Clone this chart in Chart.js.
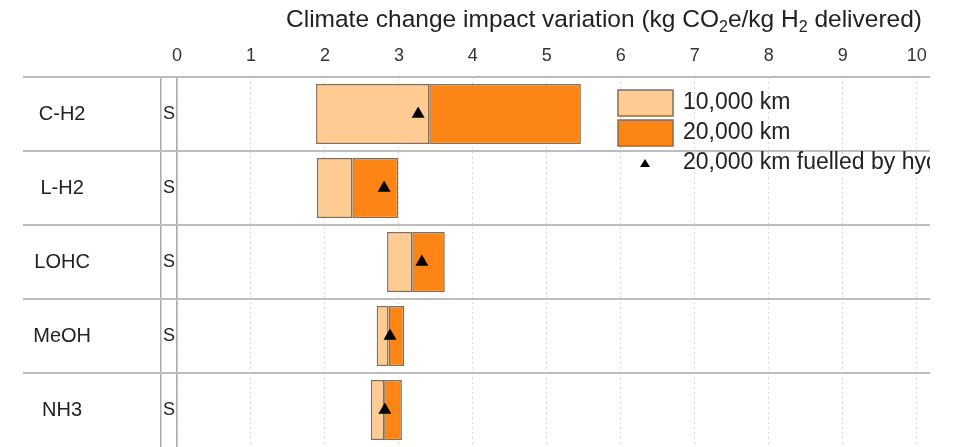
<!DOCTYPE html>
<html>
<head>
<meta charset="utf-8">
<script src="https://cdn.jsdelivr.net/npm/chart.js@4.4.0/dist/chart.umd.min.js"></script>
<style>
  html,body{margin:0;padding:0;background:#fff;overflow:hidden;}
  #wrap{width:953px;height:447px;position:relative;}
</style>
</head>
<body>
<div id="wrap"><canvas id="c"></canvas></div>
<script>
// valeurs (kg CO2e / kg H2 livré)
const carriers  = ["C-H2", "L-H2", "LOHC", "MeOH", "NH3"];
const scenario  = ["S", "S", "S", "S", "S"];
const start10k  = [1.88, 1.89, 2.84, 2.70, 2.62];   // début barre 10,000 km
const end10k    = [3.41, 2.37, 3.18, 2.86, 2.80];   // fin 10,000 km = début 20,000 km
const end20k    = [5.46, 2.99, 3.62, 3.07, 3.04];   // fin 20,000 km
const h2Fuelled = [3.26, 2.80, 3.31, 2.88, 2.81];   // 20,000 km fuelled by hydrogen
const xTicks    = [0, 1, 2, 3, 4, 5, 6, 7, 8, 9, 10];
const seriesNames = ["10,000 km", "20,000 km", "20,000 km fuelled by hydrogen"];
const titleParts = [["Climate change impact variation (kg CO", 0], ["2", 1], ["e/kg H", 0], ["2", 1], [" delivered)", 0]];

const LIGHT = "#fecc92", DARK = "#fd8516", EDGE = "#8a6c50", GRIDC = "#bdbdbd";
const FONT = "'Liberation Sans', Arial, sans-serif";
Chart.defaults.font.family = FONT;
Chart.defaults.color = "#222";

// lignes de séparation + titre + légende maison
const decor = {
  id: "decor",
  beforeDatasetsDraw(chart){
    const {ctx, chartArea} = chart, y = chart.scales.y;
    ctx.save();
    ctx.strokeStyle = GRIDC; ctx.lineWidth = 2;
    // la dernière ligne tombe hors de l'image sur la figure
    for (let i = 0; i < carriers.length; i++){
      const py = Math.round(y.getPixelForValue(i - 0.5));
      ctx.beginPath(); ctx.moveTo(y.left, py); ctx.lineTo(chartArea.right, py); ctx.stroke();
    }
    ctx.restore();
  },
  afterDraw(chart){
    const {ctx, chartArea} = chart;
    ctx.save();
    // titre avec indices
    const big = "24.5px " + FONT, small = "16px " + FONT;
    let w = 0;
    titleParts.forEach(([t, sub]) => { ctx.font = sub ? small : big; w += ctx.measureText(t).width; });
    let x = chartArea.right - 8 - w;
    ctx.fillStyle = "#222"; ctx.textBaseline = "alphabetic";
    titleParts.forEach(([t, sub]) => {
      ctx.font = sub ? small : big;
      ctx.fillText(t, x, sub ? 32 : 27);
      x += ctx.measureText(t).width;
    });
    // légende, coupée au bord droit comme sur la figure
    ctx.beginPath(); ctx.rect(chartArea.left, chartArea.top, chartArea.right - chartArea.left, chartArea.bottom - chartArea.top); ctx.clip();
    const bx = 618, tx = 683, rows = [103, 133, 163];
    [LIGHT, DARK].forEach((c, i) => {
      ctx.fillStyle = c; ctx.strokeStyle = EDGE; ctx.lineWidth = 1.5;
      ctx.fillRect(bx, rows[i] - 13, 55, 26); ctx.strokeRect(bx, rows[i] - 13, 55, 26);
    });
    ctx.fillStyle = "#000";
    ctx.beginPath(); ctx.moveTo(645, rows[2] - 4); ctx.lineTo(650, rows[2] + 4); ctx.lineTo(640, rows[2] + 4); ctx.closePath(); ctx.fill();
    ctx.font = "23px " + FONT; ctx.fillStyle = "#222"; ctx.textBaseline = "middle";
    seriesNames.forEach((n, i) => ctx.fillText(n, tx, rows[i]));
    ctx.restore();
  }
};

const barCommon = { type: "bar", order: 1, borderColor: EDGE, borderWidth: 1.5, borderSkipped: false, grouped: false, barPercentage: 0.81, categoryPercentage: 1 };
// largeur d'axe fixée, sans le padding vertical que Chart.js ajoute pour les labels
const fixWidth = w => s => { s.width = w; s.paddingTop = 0; s.paddingBottom = 0; };

new Chart(document.getElementById("c"), {
  type: "bar",
  data: {
    labels: carriers,
    datasets: [
      { ...barCommon, label: seriesNames[0], backgroundColor: LIGHT, data: carriers.map((c, i) => [start10k[i], end10k[i]]) },
      { ...barCommon, label: seriesNames[1], backgroundColor: DARK, data: carriers.map((c, i) => [end10k[i], end20k[i]]) },
      { type: "scatter", order: -1, label: seriesNames[2], data: carriers.map((c, i) => ({ x: h2Fuelled[i], y: c })),
        pointStyle: "triangle", pointRadius: 7.5, backgroundColor: "#000", borderColor: "#000", borderWidth: 0, showLine: false }
    ]
  },
  options: {
    indexAxis: "y",
    responsive: true, maintainAspectRatio: false, animation: false, events: [],
    layout: { autoPadding: false, padding: { left: 23, right: 23, top: 0, bottom: 0 } },
    plugins: { legend: { display: false }, tooltip: { enabled: false } },
    scales: {
      x: {
        type: "linear", position: "top", min: 0, max: 10.18,
        afterBuildTicks: s => { s.ticks = xTicks.map(v => ({ value: v })); },
        afterFit: s => { s.height = 77; },
        ticks: { font: { size: 18 }, color: "#333", padding: 10, includeBounds: false },
        grid: { color: "#d8d8d8", lineWidth: 1, drawTicks: false },
        border: { display: false, dash: [2, 3] }
      },
      y: {
        type: "category", position: "left", weight: 1,
        afterFit: fixWidth(138),
        grid: { display: false, drawTicks: false },
        border: { display: true, color: "#aaa", width: 1.5 },
        ticks: { font: { size: 20 }, color: "#222", crossAlign: "center", padding: 70 }
      },
      y2: {
        type: "category", labels: scenario, position: "left", weight: 0, offset: true,
        afterFit: fixWidth(16),
        grid: { display: false, drawTicks: false },
        border: { display: true, color: "#aaa", width: 1.5 },
        ticks: { font: { size: 18 }, color: "#222", crossAlign: "center", padding: 2 }
      }
    }
  },
  plugins: [decor]
});
</script>
</body>
</html>
